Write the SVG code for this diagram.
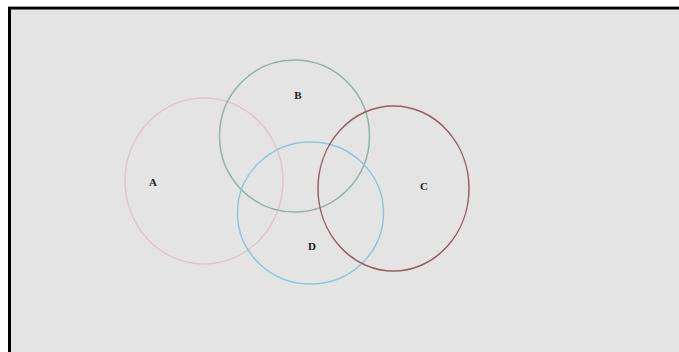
<svg xmlns="http://www.w3.org/2000/svg" width="679" height="352" viewBox="0 0 679 352">
<style>
.set{fill:none;stroke-width:1.5}
.lbl{font-family:"Liberation Serif",serif;font-weight:bold;font-size:11px;fill:#222;text-anchor:middle}
</style>
<rect x="0" y="0" width="679" height="352" fill="#ffffff"/>
<rect x="9.5" y="8" width="680" height="360" fill="#e4e4e4" stroke="#000" stroke-width="3"/>
<line x1="8" y1="6.5" x2="679" y2="6.5" stroke="#a0a0a0" stroke-width="1"/>
<g id="A"><ellipse class="set" cx="204" cy="181" rx="79" ry="83" stroke="#e0c6cb"/><text class="lbl" x="153" y="186">A</text></g>
<g id="B"><ellipse class="set" cx="294.5" cy="136" rx="75" ry="76" stroke="#92b2a6"/><text class="lbl" x="298" y="99">B</text></g>
<g id="D"><ellipse class="set" cx="310.5" cy="213" rx="73" ry="71" stroke="#8ec8d4"/><text class="lbl" x="312" y="250">D</text></g>
<g id="C"><ellipse class="set" cx="393.5" cy="188.5" rx="75.5" ry="82.5" stroke="#9c5e66"/><text class="lbl" x="424" y="190">C</text></g>
<g id="connectors"/>
</svg>
